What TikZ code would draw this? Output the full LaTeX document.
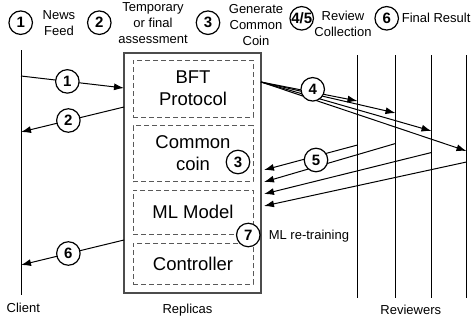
\documentclass[tikz,border=0pt]{standalone}
\usepackage{fontspec}
\setmainfont{Liberation Sans}
\usetikzlibrary{arrows.meta}
\begin{document}
\begin{tikzpicture}[x=1pt,y=-1pt,line width=1pt,>={Latex[length=10pt,width=7pt]},
  font=\fontsize{13}{16}\selectfont,
  num/.style={circle,draw,fill=white,line width=1.2pt,inner sep=0pt,
    minimum size=23.5pt,font=\fontsize{15}{15}\selectfont\bfseries},
  part/.style={draw=black!65,dash pattern=on 5pt off 3pt,line width=.9pt,
    minimum width=120pt,align=center,font=\fontsize{18.5}{22}\selectfont},
  txt/.style={align=center}]
  \useasboundingbox (0,0) rectangle (471,324);
  % legend of the numbered steps
  \node[num] (k1) at (20.7,22.7) {1};
  \node[txt] (t1) at (59,23) {News\\Feed};
  \node[num] (k2) at (99.3,22.7) {2};
  \node[txt] (t2) at (153,23.5) {Temporary\\or final\\assessment};
  \node[num] (k3) at (208,22.7) {3};
  \node[txt] (t3) at (256,25.5) {Generate\\Common\\Coin};
  \node[num] (k45) at (301.7,18.3) {\makebox[12pt]{4/5}};
  \node[txt] (t45) at (343,24) {Review\\Collection};
  \node[num] (k6) at (386.7,18.3) {6};
  \node[txt,anchor=west] (t6) at (398,18.3) {Final Result};
  % replicas and their parts
  \node[draw=black!70,line width=1.1pt,minimum width=137pt,
    minimum height=240pt] (rep) at (192.5,173) {};
  \node[part,minimum height=57pt] (bft) at (193,88.5) {BFT\\Protocol};
  \node[part,minimum height=56pt] (coin) at (193,153.5) {Common\\coin};
  \node[part,minimum height=44pt] (ml) at (193,212.3) {ML Model};
  \node[part,minimum height=41pt] (ctrl) at (193,263.8) {Controller};
  % client
  \draw (21,50) coordinate (cl) -- (21,295) coordinate (clend);
  \coordinate (c1) at (21,76);
  \coordinate (c2) at (21,132);
  \coordinate (c6) at (21,265);
  \coordinate (in1) at (124,88);
  \coordinate (in2) at (124,107);
  \coordinate (in6) at (124,240);
  \draw[->] (c1) -- node[num,pos=.45] (n1) {1} (in1);
  \draw[->] (in2) -- node[num,pos=.54] (n2) {2} (c2);
  \draw[->] (in6) -- node[num,pos=.54] (n6) {6} (c6);
  % reviewers, requests out and reviews back
  \coordinate (out) at (261,82);
  \foreach \x/\ya/\yb/\yc [count=\i] in {357.5/101/145/170,395.5/113/143.5/182,
      431.5/131/152.5/194,466.5/151/162/206}{
    \draw (\x,55) coordinate (rv\i) -- (\x,298);
    \coordinate (req\i) at (\x,\ya);
    \coordinate (rev\i) at (\x,\yb);
    \coordinate (back\i) at (264,\yc);
    \draw[->] (out) -- (req\i);
    \draw[->] (rev\i) -- (back\i);
  }
  \node[num] (n4) at (312.7,89.3) {4};
  \node[num] (n5) at (316,160) {5};
  \node[num] (n3) at (238,162) {3};
  \node[num] (n7) at (248.3,235) {7};
  \node[anchor=west] (retrain) at (265,236.5) {ML re-training};
  % names of the parties
  \node (client) at (23.3,308.3) {Client};
  \node (replicas) at (187.5,310) {Replicas};
  \node (reviewers) at (410.8,310) {Reviewers};
\end{tikzpicture}
\end{document}
